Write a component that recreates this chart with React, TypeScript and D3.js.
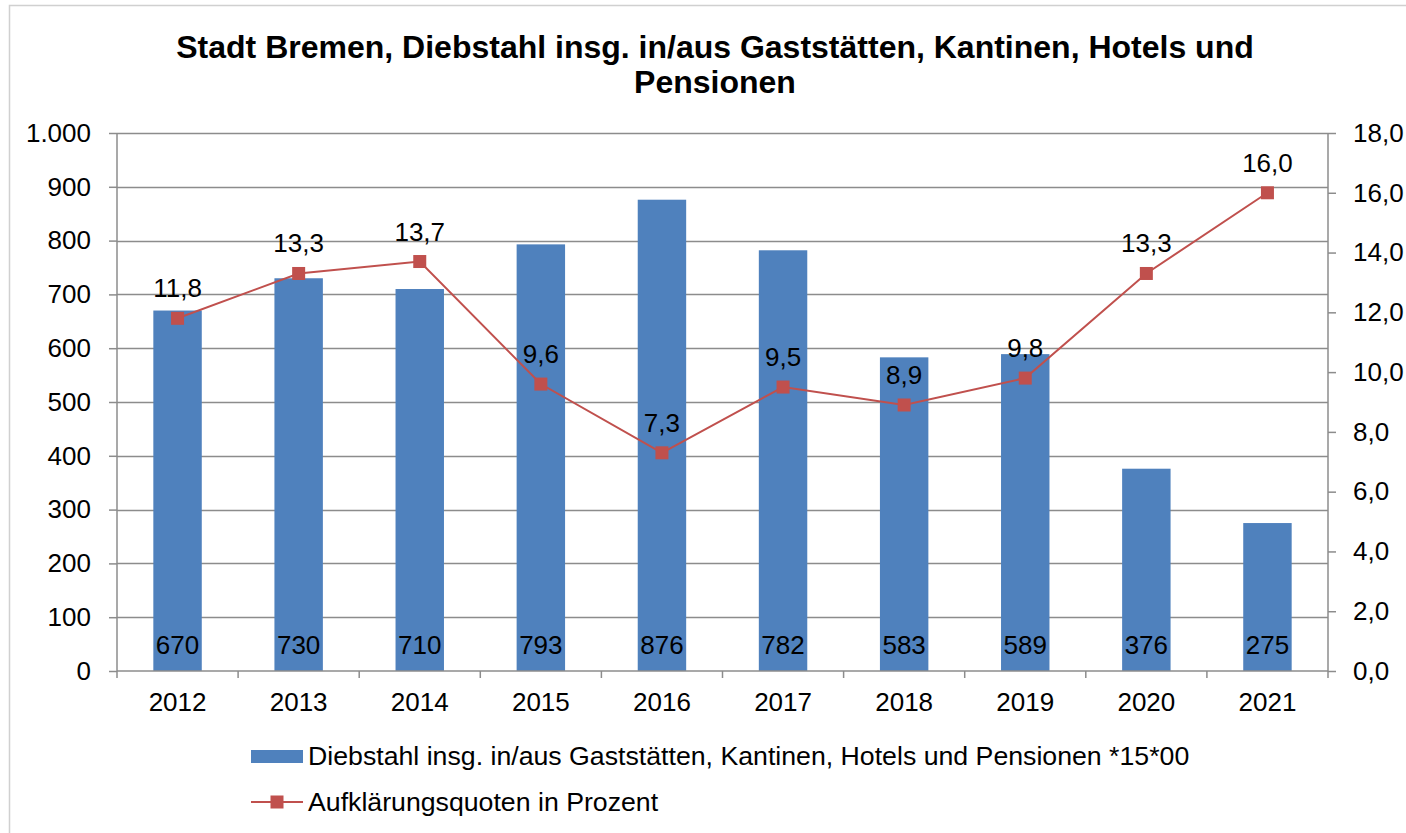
import React, { useEffect, useRef } from 'react';
import * as d3 from 'd3';

const years = ['2012', '2013', '2014', '2015', '2016', '2017', '2018', '2019', '2020', '2021'];
const thefts = [670, 730, 710, 793, 876, 782, 583, 589, 376, 275];
const clearance = [11.8, 13.3, 13.7, 9.6, 7.3, 9.5, 8.9, 9.8, 13.3, 16.0];
const leftTicks = [0, 100, 200, 300, 400, 500, 600, 700, 800, 900, 1000];
const rightTicks = [0, 2, 4, 6, 8, 10, 12, 14, 16, 18];

const titleLines = ['Stadt Bremen, Diebstahl insg. in/aus Gaststätten, Kantinen, Hotels und', 'Pensionen'];
const barLegend = 'Diebstahl insg. in/aus Gaststätten, Kantinen, Hotels und Pensionen *15*00';
const lineLegend = 'Aufklärungsquoten in Prozent';

const BAR = '#4f81bd';
const LINE = '#c0504d';
const GRID = '#8c8c8c';
const FONT = '"Liberation Sans", Arial, sans-serif';
const FS = '26px';

function App() {
  const ref = useRef<SVGSVGElement>(null);

  useEffect(() => {
    if (!ref.current) return;
    const svg = d3.select(ref.current);
    svg.selectAll('*').remove();

    const margin = { left: 117, right: 1328, top: 133, bottom: 671 };

    // frame
    svg.append('rect')
      .attr('x', 9.5).attr('y', 5.5)
      .attr('width', 1420).attr('height', 840)
      .attr('fill', '#fff').attr('stroke', '#d0d0d0').attr('stroke-width', 1.5);

    const x = d3.scaleBand().domain(years).range([margin.left, margin.right]).paddingInner(0).paddingOuter(0);
    const yL = d3.scaleLinear().domain([0, 1000]).range([margin.bottom, margin.top]);
    const yR = d3.scaleLinear().domain([0, 18]).range([margin.bottom, margin.top]);

    // title
    svg.append('g').selectAll('text').data(titleLines).enter().append('text')
      .attr('x', 715).attr('y', (d, i) => 58 + i * 35)
      .attr('text-anchor', 'middle')
      .style('font-family', FONT).style('font-weight', 'bold').style('font-size', '32px')
      .text(d => d);

    // gridlines
    svg.append('g').selectAll('line').data(leftTicks.slice(1)).enter().append('line')
      .attr('x1', margin.left).attr('x2', margin.right)
      .attr('y1', d => Math.round(yL(d)) + 0.5).attr('y2', d => Math.round(yL(d)) + 0.5)
      .attr('stroke', GRID).attr('stroke-width', 1.5);

    // bars
    svg.append('g').selectAll('rect').data(thefts).enter().append('rect')
      .attr('x', (d, i) => x(years[i])! + x.bandwidth() * 0.3)
      .attr('width', x.bandwidth() * 0.4)
      .attr('y', d => yL(d))
      .attr('height', d => yL(0) - yL(d))
      .attr('fill', BAR);

    // bar labels
    svg.append('g').selectAll('text').data(thefts).enter().append('text')
      .attr('x', (d, i) => x(years[i])! + x.bandwidth() / 2)
      .attr('y', yL(0) - 17)
      .attr('text-anchor', 'middle')
      .style('font-family', FONT).style('font-size', FS).attr('fill', '#000')
      .text(d => d3.format(',')(d).replace(',', '.'));

    // left axis
    const leftAxis = svg.append('g')
      .attr('transform', `translate(${margin.left},0)`)
      .call(d3.axisLeft(yL).tickValues(leftTicks).tickSize(8).tickPadding(18)
        .tickFormat(d => d3.format(',')(d as number).replace(',', '.')));
    // right axis
    const rightAxis = svg.append('g')
      .attr('transform', `translate(${margin.right},0)`)
      .call(d3.axisRight(yR).tickValues(rightTicks).tickSize(8).tickPadding(17)
        .tickFormat(d => (d as number).toFixed(1).replace('.', ',')));
    // bottom axis
    const bottomAxis = svg.append('g')
      .attr('transform', `translate(0,${margin.bottom})`)
      .call(d3.axisBottom(x).tickSize(0).tickPadding(22));
    bottomAxis.append('g').selectAll('line')
      .data(d3.range(years.length + 1)).enter().append('line')
      .attr('x1', i => margin.left + i * x.step()).attr('x2', i => margin.left + i * x.step())
      .attr('y1', 0).attr('y2', 7)
      .attr('stroke', GRID).attr('stroke-width', 1.5);

    [leftAxis, rightAxis, bottomAxis].forEach(g => {
      g.select('.domain').attr('stroke', GRID).attr('stroke-width', 1.5);
      g.selectAll('.tick line').attr('stroke', GRID).attr('stroke-width', 1.5);
      g.selectAll('.tick text').style('font-family', FONT).style('font-size', FS).attr('fill', '#000');
    });
    leftAxis.select('.domain').attr('d', `M0,${margin.top}V${margin.bottom}`);
    rightAxis.select('.domain').attr('d', `M0,${margin.top}V${margin.bottom}`);
    bottomAxis.select('.domain').attr('d', `M${margin.left},0H${margin.right}`);

    // line
    const line = d3.line<number>()
      .x((d, i) => x(years[i])! + x.bandwidth() / 2)
      .y(d => yR(d));
    svg.append('path').datum(clearance)
      .attr('d', line).attr('fill', 'none').attr('stroke', LINE).attr('stroke-width', 2);

    svg.append('g').selectAll('rect').data(clearance).enter().append('rect')
      .attr('x', (d, i) => x(years[i])! + x.bandwidth() / 2 - 6.5)
      .attr('y', d => yR(d) - 6.5)
      .attr('width', 13).attr('height', 13)
      .attr('fill', LINE);

    svg.append('g').selectAll('text').data(clearance).enter().append('text')
      .attr('x', (d, i) => x(years[i])! + x.bandwidth() / 2)
      .attr('y', d => yR(d) - 21)
      .attr('text-anchor', 'middle')
      .style('font-family', FONT).style('font-size', FS).attr('fill', '#000')
      .text(d => d.toFixed(1).replace('.', ','));

    // legend
    const lg = svg.append('g');
    lg.append('rect').attr('x', 251).attr('y', 750).attr('width', 52).attr('height', 13).attr('fill', BAR);
    lg.append('text').attr('x', 308).attr('y', 765)
      .style('font-family', FONT).style('font-size', '26.7px').text(barLegend);
    lg.append('line').attr('x1', 251).attr('x2', 303).attr('y1', 802).attr('y2', 802)
      .attr('stroke', LINE).attr('stroke-width', 2);
    lg.append('rect').attr('x', 270.5).attr('y', 795.5).attr('width', 13).attr('height', 13).attr('fill', LINE);
    lg.append('text').attr('x', 308).attr('y', 811)
      .style('font-family', FONT).style('font-size', '26.7px').text(lineLegend);
  }, []);

  return (
    <svg ref={ref} width={1406} height={833}
      style={{ position: 'fixed', left: 0, top: 0, background: '#fff' }} />
  );
}

export default App;
